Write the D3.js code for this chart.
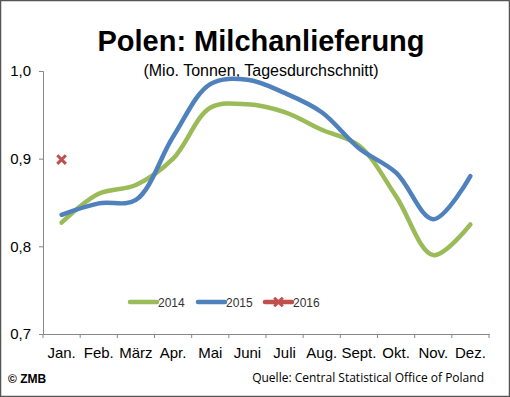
<!DOCTYPE html>
<html>
<head>
<meta charset="utf-8">
<script src="https://cdn.jsdelivr.net/npm/d3@7"></script>
<style>
  body { margin: 0; background: #fff; }
  text { font-family: "Liberation Sans", Arial, sans-serif; }
</style>
</head>
<body>
<div id="chart"></div>
<script>
var months = ["Jan.", "Feb.", "März", "Apr.", "Mai", "Juni", "Juli", "Aug.", "Sept.", "Okt.", "Nov.", "Dez."];
var values2014 = [0.827, 0.860, 0.870, 0.900, 0.958, 0.962, 0.953, 0.933, 0.915, 0.857, 0.790, 0.825];
var values2015 = [0.836, 0.849, 0.853, 0.925, 0.985, 0.990, 0.975, 0.953, 0.912, 0.884, 0.831, 0.880];
var values2016 = [0.899];
var yTicks = [0.7, 0.8, 0.9, 1.0];

var W = 510, H = 397;
var margin = {top: 71, right: 21, bottom: 63, left: 43},
    width = W - margin.left - margin.right,
    height = H - margin.top - margin.bottom;

var svg = d3.select("#chart")
  .append("svg")
    .attr("width", W)
    .attr("height", H);

// outer frame
svg.append("rect")
  .attr("x", 0.5).attr("y", 0.5)
  .attr("width", W - 1).attr("height", H - 1)
  .attr("fill", "#fff")
  .attr("stroke", "#555")
  .attr("stroke-width", 1.5);

svg.append("text")
  .attr("x", 261).attr("y", 51)
  .attr("text-anchor", "middle")
  .style("font-size", "29px")
  .style("font-weight", "bold")
  .text("Polen: Milchanlieferung");

svg.append("text")
  .attr("x", 261).attr("y", 76)
  .attr("text-anchor", "middle")
  .style("font-size", "16px")
  .text("(Mio. Tonnen, Tagesdurchschnitt)");

var g = svg.append("g")
  .attr("transform", "translate(" + margin.left + "," + margin.top + ")");

var x = d3.scaleBand()
  .domain(months)
  .range([0, width]);

var y = d3.scaleLinear()
  .domain([0.7, 1.0])
  .range([height, 0]);

// y axis
var yAxis = g.append("g")
  .call(d3.axisLeft(y).tickValues(yTicks).tickSize(4).tickPadding(8)
    .tickFormat(function(d) { return d3.format(".1f")(d).replace(".", ","); }));
yAxis.select(".domain").attr("stroke", "#888");
yAxis.selectAll(".tick line").attr("stroke", "#888");
yAxis.selectAll("text").style("font-size", "15px").attr("fill", "#000");

// x axis with ticks at category boundaries
var xAxis = g.append("g")
  .attr("transform", "translate(0," + height + ")")
  .call(d3.axisBottom(x).tickSize(0).tickPadding(13));
xAxis.select(".domain").attr("stroke", "#888");
xAxis.selectAll("text").style("font-size", "15px").attr("fill", "#000");
xAxis.selectAll(".bound")
  .data(d3.range(months.length + 1))
  .enter().append("line")
    .attr("x1", function(i) { return i * x.step(); })
    .attr("x2", function(i) { return i * x.step(); })
    .attr("y1", 0).attr("y2", 4)
    .attr("stroke", "#888");

var cx = function(d, i) { return x(months[i]) + x.bandwidth() / 2; };

var line = d3.line()
  .x(cx)
  .y(function(d) { return y(d); })
  .curve(d3.curveCatmullRom.alpha(0.5));

g.append("path")
  .datum(values2014)
  .attr("fill", "none")
  .attr("stroke", "#9BBB59")
  .attr("stroke-width", 4.5)
  .attr("stroke-linecap", "round")
  .attr("d", line);

g.append("path")
  .datum(values2015)
  .attr("fill", "none")
  .attr("stroke", "#4F81BD")
  .attr("stroke-width", 4.5)
  .attr("stroke-linecap", "round")
  .attr("d", line);

var cross = d3.symbol().type(d3.symbolX).size(50);
g.selectAll(".m2016")
  .data(values2016)
  .enter().append("path")
    .attr("transform", function(d, i) { return "translate(" + cx(d, i) + "," + y(d) + ")"; })
    .attr("d", cross)
    .attr("fill", "none")
    .attr("stroke", "#C0504D")
    .attr("stroke-width", 3);

// legend
var legend = [
  {name: "2014", color: "#9BBB59", x: 130},
  {name: "2015", color: "#4F81BD", x: 198},
  {name: "2016", color: "#C0504D", x: 265}
];
var lg = svg.selectAll(".leg").data(legend).enter().append("g")
  .attr("transform", function(d) { return "translate(" + d.x + ",302)"; });
lg.append("line")
  .attr("x1", 0).attr("x2", 27).attr("y1", 0).attr("y2", 0)
  .attr("stroke", function(d) { return d.color; })
  .attr("stroke-width", 4.5)
  .attr("stroke-linecap", "round");
lg.filter(function(d) { return d.name === "2016"; })
  .append("path")
    .attr("transform", "translate(13.5,0)")
    .attr("d", cross)
    .attr("fill", "none")
    .attr("stroke", function(d) { return d.color; })
    .attr("stroke-width", 3);
lg.append("text")
  .attr("x", 28).attr("y", 4.5)
  .style("font-size", "12px")
  .attr("fill", "#333")
  .text(function(d) { return d.name; });

svg.append("text")
  .attr("x", 8).attr("y", 383)
  .style("font-size", "12px")
  .style("font-weight", "bold")
  .text("© ZMB");

svg.append("text")
  .attr("x", 484).attr("y", 382)
  .attr("text-anchor", "end")
  .style("font-size", "12px")
  .style("font-family", "'Liberation Sans Narrow', 'Open Sans', sans-serif")
  .text("Quelle:  Central Statistical Office of Poland");
</script>
</body>
</html>
